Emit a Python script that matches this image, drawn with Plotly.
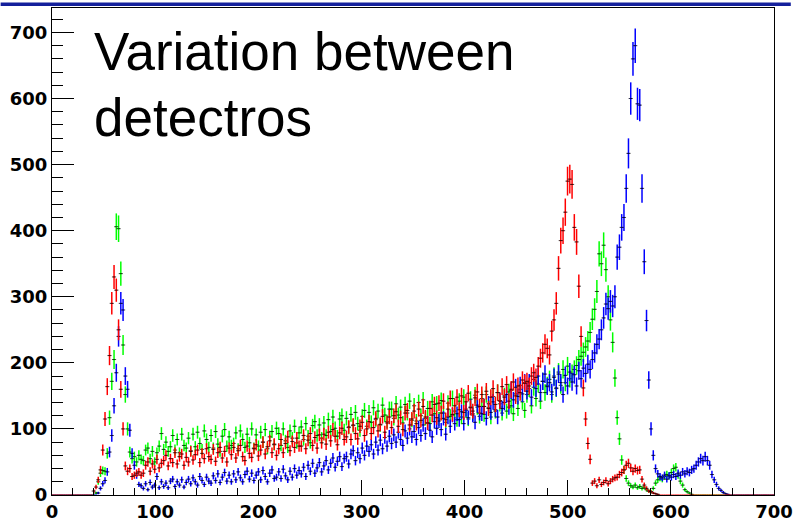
import numpy as np
import plotly.graph_objects as go

# ---------------- data (counts per bin, 320 bins over 0..700) ----------------
X_MIN, X_MAX, N_BINS = 0, 700, 320

red_counts = [
    0,0,0,0,0,0,0,0,0,0,
    0,0,0,0,0,0,0,0,6,12,
    23,38,68,115,164,211,290,330,310,250,
    160,100,44,36,40,28,30,33,35,30,
    33,45,50,36,47,39,54,41,48,52,
    60,44,55,49,64,47,58,62,45,57,
    50,66,53,61,68,49,63,55,70,58,
    54,69,51,64,72,56,66,50,71,61,
    72,56,67,75,58,52,74,63,57,70,
    76,59,68,80,62,73,82,64,77,60,
    70,84,64,78,88,67,81,72,86,74,
    74,90,70,83,93,75,87,71,91,79,
    92,77,95,82,99,89,76,94,101,84,
    88,103,84,106,93,85,104,110,90,100,
    111,93,102,116,97,107,119,95,109,118,
    102,120,126,104,117,99,124,128,106,115,
    127,108,130,113,134,118,109,131,121,137,
    117,139,124,142,114,130,146,122,135,148,
    129,150,125,141,154,132,127,147,156,134,
    152,134,157,131,148,161,137,155,142,164,
    148,167,142,160,171,150,165,155,174,169,
    172,165,180,185,178,195,207,215,228,222,
    212,248,265,290,343,385,400,428,475,478,
    470,405,383,316,240,162,115,78,54,18,
    21,14,23,16,19,22,17,21,24,26,
    27,31,34,38,45,48,41,36,40,37,
    38,24,15,10,6,5,3,2,1,0,
    0,0,0,0,0,0,0,0,0,0,
    0,0,0,0,0,0,0,0,0,0,
    0,0,0,0,0,0,0,0,0,0,
    0,0,0,0,0,0,0,0,0,0,
    0,0,0,0,0,0,0,0,0,0,
]

green_counts = [
    0,0,0,0,0,0,0,0,0,0,
    0,0,0,0,0,0,0,0,0,3,
    20,33,37,36,63,117,172,205,406,403,
    335,227,152,100,65,55,58,50,60,54,
    52,68,71,55,66,50,64,74,93,69,
    80,66,73,90,68,84,64,92,75,71,
    86,67,92,73,95,78,69,97,84,72,
    90,71,96,77,66,89,99,74,88,75,
    78,94,70,97,84,72,92,79,100,71,
    91,74,95,80,99,70,88,96,76,101,
    93,75,100,82,72,97,86,104,79,94,
    103,84,108,89,79,105,111,90,106,86,
    109,90,114,96,118,101,89,115,120,98,
    116,102,122,105,125,108,98,119,128,104,
    125,110,132,114,127,106,136,121,111,130,
    130,116,138,121,133,109,137,124,142,113,
    135,112,140,120,144,116,131,108,141,123,
    138,115,143,124,110,139,119,146,127,114,
    142,118,148,128,115,145,123,151,133,119,
    146,122,152,132,118,149,127,155,138,124,
    150,127,156,135,123,153,131,160,141,128,
    152,161,135,163,146,168,142,172,155,166,
    175,152,180,161,186,166,190,170,195,176,
    184,190,196,205,210,216,224,233,246,266,
    281,308,365,350,378,341,300,265,231,177,
    117,85,53,38,25,18,14,12,15,11,
    13,10,12,8,6,5,10,18,23,26,
    24,28,31,29,34,40,42,30,21,15,
    8,5,3,1,0,0,0,0,0,0,
    0,0,0,0,0,0,0,0,0,0,
    0,0,0,0,0,0,0,0,0,0,
    0,0,0,0,0,0,0,0,0,0,
]

blue_counts = [
    0,0,0,0,0,0,0,0,0,0,
    0,0,0,0,0,0,0,0,0,0,
    3,10,17,22,35,65,90,135,185,240,
    290,280,180,160,98,63,45,30,16,14,
    10,17,8,19,12,15,28,11,20,13,
    18,11,21,24,13,20,15,23,12,19,
    24,17,26,20,15,28,22,16,27,21,
    18,29,22,32,19,27,34,21,30,20,
    32,23,35,26,20,31,36,24,33,22,
    30,35,23,37,28,20,33,38,25,27,
    35,25,39,29,23,36,27,40,30,37,
    32,42,28,45,36,48,33,41,49,35,
    44,52,38,48,56,42,51,58,43,55,
    58,47,62,67,52,64,55,71,60,74,
    66,76,62,80,68,83,70,87,74,89,
    78,91,80,95,84,75,97,86,100,88,
    96,84,102,90,106,93,109,98,88,111,
    101,112,99,116,92,118,104,121,108,123,
    114,126,108,130,117,133,121,110,136,124,
    123,134,116,138,125,141,129,118,143,131,
    140,152,133,158,144,163,149,166,153,170,
    157,170,148,175,161,180,155,172,183,164,
    170,156,178,162,183,170,152,181,165,186,
    171,182,165,188,176,192,184,198,190,205,
    215,228,236,250,268,289,282,293,286,300,
    360,375,405,420,464,517,600,660,680,592,
    590,464,353,264,174,100,60,40,32,28,
    26,30,24,29,27,31,28,33,30,35,
    32,36,34,38,40,45,50,55,52,58,
    52,45,31,23,16,10,7,4,2,1,
    0,0,0,0,0,0,0,0,0,0,
    0,0,0,0,0,0,0,0,0,0,
]

x_tick_vals = [0, 100, 200, 300, 400, 500, 600, 700]
y_tick_vals = [0, 100, 200, 300, 400, 500, 600, 700]
title_lines = ["Variation between", "detectros"]

# ---------------- figure ----------------
bin_w = (X_MAX - X_MIN) / N_BINS
centers = X_MIN + (np.arange(N_BINS) + 0.5) * bin_w

fig = go.Figure()

def add_hist(counts, color, name):
    c = np.array(counts, dtype=float)
    err = np.sqrt(c)
    msize = np.where(c > 0, 3, 0)
    fig.add_trace(go.Scatter(
        x=centers, y=c, mode="markers", name=name,
        marker=dict(symbol="line-ew", size=msize, color="black",
                    line=dict(color="black", width=1)),
        error_y=dict(type="data", array=err, visible=True, color=color,
                     thickness=1.5, width=0),
        error_x=dict(type="constant", value=bin_w / 2, visible=True,
                     color=color, thickness=1, width=0),
        showlegend=False, hoverinfo="x+y",
    ))

add_hist(green_counts, "#00ff00", "green")
add_hist(blue_counts, "#0000ff", "blue")
add_hist(red_counts, "#ff0000", "red")

W, H = 800, 529
L, R, T, B = 52, 17, 7, 27
pw, ph = W - L - R, H - T - B

tick_font = dict(family="DejaVu Sans", size=18, color="black", weight="bold")

fig.update_xaxes(
    range=[X_MIN, X_MAX], showgrid=False, zeroline=False,
    showline=True, linecolor="black", linewidth=1, mirror=True,
    ticks="inside", ticklen=15, tickwidth=1, tickcolor="black",
    tickvals=x_tick_vals, ticktext=[str(v) for v in x_tick_vals],
    tickfont=tick_font, ticklabeloverflow="allow",
    minor=dict(ticks="inside", ticklen=7, dtick=20, tickcolor="black", tickwidth=1, showgrid=False),
)
fig.update_yaxes(
    range=[0, 737], showgrid=False, zeroline=False,
    showline=True, linecolor="black", linewidth=1, mirror=True,
    ticks="inside", ticklen=22, tickwidth=1, tickcolor="black",
    tickvals=y_tick_vals, ticktext=[str(v) for v in y_tick_vals],
    tickfont=tick_font, ticklabeloverflow="allow",
    minor=dict(ticks="inside", ticklen=11, dtick=20, tickcolor="black", tickwidth=1, showgrid=False),
)

def px_to_paper_x(px):
    return (px - L) / pw

def px_to_paper_y(py):
    return (H - B - py) / ph

# header band at top of the slide
fig.add_shape(type="rect", xref="paper", yref="paper",
              x0=px_to_paper_x(0), x1=px_to_paper_x(800),
              y0=px_to_paper_y(5), y1=px_to_paper_y(1.5),
              fillcolor="#14209c", line=dict(width=0), layer="above")

for i, line in enumerate(title_lines):
    fig.add_annotation(
        text=line, xref="paper", yref="paper",
        x=px_to_paper_x(93), y=px_to_paper_y(19 + 67 * i),
        xanchor="left", yanchor="top", showarrow=False,
        font=dict(family="Arial, Liberation Sans", size=53, color="black"),
    )

fig.update_layout(
    width=W, height=H, margin=dict(l=L, r=R, t=T, b=B),
    paper_bgcolor="white", plot_bgcolor="white",
)

fig.write_html("out.html")
